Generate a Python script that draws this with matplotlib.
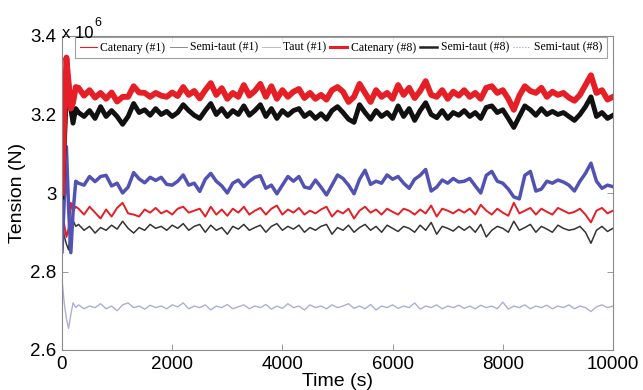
import numpy as np
import matplotlib
matplotlib.use("Agg")
import matplotlib.pyplot as plt
from matplotlib.lines import Line2D
from matplotlib.ticker import FuncFormatter

# ---- data (tension in units of 1e6 N) ----
t_start = [0, 40, 80, 120, 160, 200, 250]
t_main = list(range(300, 10001, 100))
time_s = t_start + t_main

catenary_8 = [3.00, 3.18, 3.345, 3.28, 3.215, 3.23, 3.27,
    3.268, 3.248, 3.262, 3.243, 3.255, 3.240, 3.256, 3.233, 3.245, 3.245,
    3.272, 3.256, 3.255, 3.245, 3.255, 3.248, 3.245, 3.256, 3.247, 3.270,
    3.250, 3.260, 3.241, 3.262, 3.280, 3.250, 3.267, 3.240, 3.255, 3.245,
    3.275, 3.248, 3.260, 3.278, 3.245, 3.272, 3.240, 3.262, 3.245, 3.258,
    3.265, 3.242, 3.255, 3.240, 3.250, 3.238, 3.262, 3.270, 3.258, 3.232,
    3.245, 3.278, 3.255, 3.232, 3.262, 3.245, 3.255, 3.240, 3.275, 3.250,
    3.268, 3.242, 3.260, 3.285, 3.250, 3.245, 3.262, 3.240, 3.258, 3.248,
    3.262, 3.245, 3.255, 3.240, 3.268, 3.272, 3.255, 3.262, 3.240, 3.212,
    3.248, 3.272, 3.260, 3.255, 3.268, 3.245, 3.258, 3.250, 3.255, 3.243,
    3.235, 3.250, 3.275, 3.300, 3.255, 3.262, 3.238, 3.245]

semitaut_8 = [2.99, 3.12, 3.25, 3.282, 3.215, 3.178, 3.215,
    3.205, 3.195, 3.210, 3.190, 3.220, 3.195, 3.210, 3.195, 3.175, 3.195,
    3.228, 3.205, 3.212, 3.198, 3.215, 3.200, 3.208, 3.195, 3.205, 3.225,
    3.210, 3.198, 3.190, 3.210, 3.228, 3.200, 3.215, 3.195, 3.210, 3.200,
    3.222, 3.198, 3.210, 3.225, 3.195, 3.215, 3.190, 3.210, 3.198, 3.210,
    3.215, 3.195, 3.205, 3.190, 3.202, 3.188, 3.210, 3.220, 3.205, 3.188,
    3.180, 3.225, 3.205, 3.188, 3.210, 3.195, 3.205, 3.190, 3.222, 3.195,
    3.215, 3.185, 3.210, 3.230, 3.200, 3.192, 3.210, 3.190, 3.205, 3.198,
    3.210, 3.195, 3.205, 3.190, 3.218, 3.222, 3.205, 3.212, 3.190, 3.167,
    3.195, 3.222, 3.212, 3.198, 3.215, 3.200, 3.208, 3.200, 3.205, 3.195,
    3.185, 3.200, 3.220, 3.245, 3.195, 3.205, 3.190, 3.198]

taut_8 = [2.85, 2.98, 3.118, 2.96, 2.848, 2.95, 3.03,
    3.025, 3.020, 3.042, 3.029, 3.042, 3.045, 3.018, 3.025, 3.000, 3.015,
    3.052, 3.036, 3.026, 3.040, 3.032, 3.040, 3.022, 3.020, 3.030, 3.046,
    3.020, 3.025, 3.004, 3.035, 3.050, 3.030, 3.018, 3.000, 3.025, 3.033,
    3.016, 3.030, 3.040, 3.044, 3.012, 3.020, 2.998, 3.020, 3.042, 3.030,
    3.042, 3.015, 3.012, 3.033, 3.015, 2.995, 3.020, 3.046, 3.037, 3.020,
    2.998, 3.035, 3.058, 3.022, 3.030, 3.025, 3.046, 3.035, 3.042, 3.025,
    3.012, 3.035, 3.045, 3.060, 3.005, 3.015, 3.033, 3.025, 3.037, 3.028,
    3.030, 3.037, 3.018, 3.000, 3.045, 3.055, 3.030, 3.025, 3.010, 2.990,
    2.985, 3.045, 3.055, 3.005, 3.010, 3.030, 3.025, 3.033, 3.028, 3.020,
    3.005, 3.030, 3.050, 3.076, 3.030, 3.012, 3.020, 3.016]

catenary_1 = [2.95, 2.92, 2.888, 2.91, 2.975, 2.955, 2.965,
    2.960, 2.945, 2.965, 2.950, 2.935, 2.958, 2.940, 2.962, 2.975, 2.948,
    2.945, 2.940, 2.958, 2.950, 2.962, 2.948, 2.955, 2.945, 2.960, 2.965,
    2.950, 2.955, 2.960, 2.940, 2.965, 2.945, 2.958, 2.942, 2.960, 2.950,
    2.965, 2.945, 2.955, 2.962, 2.945, 2.960, 2.968, 2.945, 2.958, 2.950,
    2.962, 2.945, 2.955, 2.948, 2.958, 2.965, 2.940, 2.955, 2.948, 2.960,
    2.935, 2.955, 2.965, 2.950, 2.958, 2.945, 2.960, 2.952, 2.945, 2.960,
    2.955, 2.945, 2.958, 2.948, 2.968, 2.940, 2.960, 2.955, 2.948, 2.958,
    2.950, 2.960, 2.945, 2.970, 2.955, 2.945, 2.960, 2.950, 2.942, 2.975,
    2.948, 2.955, 2.962, 2.945, 2.960, 2.952, 2.945, 2.962, 2.955, 2.948,
    2.952, 2.960, 2.945, 2.925, 2.955, 2.962, 2.948, 2.955]

semitaut_1 = [2.93, 2.89, 2.87, 2.855, 2.92, 2.93, 2.915,
    2.920, 2.905, 2.915, 2.898, 2.912, 2.905, 2.918, 2.908, 2.928, 2.910,
    2.898, 2.912, 2.905, 2.920, 2.910, 2.915, 2.905, 2.918, 2.910, 2.922,
    2.905, 2.915, 2.920, 2.900, 2.918, 2.905, 2.912, 2.895, 2.915, 2.908,
    2.920, 2.905, 2.912, 2.918, 2.900, 2.915, 2.922, 2.905, 2.915, 2.908,
    2.918, 2.900, 2.912, 2.905, 2.915, 2.920, 2.895, 2.912, 2.905, 2.918,
    2.900, 2.912, 2.920, 2.905, 2.915, 2.900, 2.918, 2.910, 2.902, 2.915,
    2.910, 2.900, 2.918, 2.905, 2.925, 2.895, 2.915, 2.910, 2.903, 2.915,
    2.905, 2.915, 2.900, 2.920, 2.888, 2.905, 2.915, 2.910, 2.900, 2.928,
    2.905, 2.912, 2.920, 2.900, 2.915, 2.908, 2.900, 2.918, 2.910, 2.905,
    2.908, 2.915, 2.900, 2.872, 2.905, 2.915, 2.902, 2.910]

taut_1 = [2.78, 2.72, 2.68, 2.655, 2.69, 2.72, 2.708,
    2.715, 2.705, 2.712, 2.708, 2.718, 2.705, 2.712, 2.700, 2.715, 2.720,
    2.708, 2.712, 2.704, 2.714, 2.708, 2.712, 2.705, 2.715, 2.710, 2.720,
    2.705, 2.712, 2.708, 2.715, 2.702, 2.712, 2.708, 2.716, 2.705, 2.710,
    2.715, 2.705, 2.712, 2.708, 2.716, 2.704, 2.712, 2.706, 2.718, 2.708,
    2.712, 2.702, 2.715, 2.708, 2.712, 2.705, 2.715, 2.708, 2.712, 2.718,
    2.706, 2.712, 2.705, 2.716, 2.702, 2.712, 2.708, 2.715, 2.706, 2.712,
    2.708, 2.720, 2.704, 2.712, 2.708, 2.715, 2.705, 2.712, 2.708, 2.714,
    2.706, 2.712, 2.705, 2.714, 2.708, 2.712, 2.705, 2.722, 2.704, 2.712,
    2.708, 2.715, 2.705, 2.712, 2.708, 2.714, 2.705, 2.712, 2.708, 2.715,
    2.705, 2.712, 2.708, 2.698, 2.710, 2.715, 2.708, 2.712]

legend_labels = ["Catenary (#1)", "Semi-taut (#1)", "Taut (#1)",
                 "Catenary (#8)", "Semi-taut (#8)", "Semi-taut (#8)"]
x_ticks = [0, 2000, 4000, 6000, 8000, 10000]
y_ticks = [2.6, 2.8, 3.0, 3.2, 3.4]

# ---- figure ----
sans = ["Liberation Sans", "DejaVu Sans"]
serif = ["Liberation Serif", "DejaVu Serif"]

fig = plt.figure(figsize=(6.43, 3.9), dpi=100)
ax = fig.add_axes([62/643, 40/390, 551/643, 314/390])

c_red = "#e61e25"
c_black = "#111111"
c_blue = "#5252b4"
c_lav = "#adadda"

ax.plot(time_s, taut_1, color=c_lav, lw=1.0)
ax.plot(time_s, semitaut_1, color="#333333", lw=1.1)
ax.plot(time_s, catenary_1, color=c_red, lw=1.4)
ax.plot(time_s, taut_8, color=c_blue, lw=2.5)
ax.plot(time_s, semitaut_8, color=c_black, lw=3.5)
ax.plot(time_s, catenary_8, color=c_red, lw=4.2)

ax.set_xlim(0, 10000)
ax.set_ylim(2.6, 3.4)
ax.set_xticks(x_ticks)
ax.set_yticks(y_ticks)
ax.yaxis.set_major_formatter(FuncFormatter(lambda v, p: "%g" % round(v, 2)))
ax.tick_params(direction="in", length=4, width=0.6, top=True, right=True,
               labelsize=13.5, colors="#888888", labelcolor="black", pad=4)
for lbl in ax.get_xticklabels() + ax.get_yticklabels():
    lbl.set_family(sans)
for s in ax.spines.values():
    s.set_color("#8a8a8a")
    s.set_linewidth(0.8)

ax.set_xlabel("Time (s)", fontsize=14, family=sans, labelpad=0)
ax.set_ylabel("Tension (N)", fontsize=14, family=sans, labelpad=3)

fig.text(62/643, 1 - 38/390, "x 10", fontsize=12, family=sans,
         ha="left", va="baseline")
fig.text(94/643, 1 - 26/390, "6", fontsize=9, family=sans,
         ha="left", va="baseline")

handles = [
    Line2D([], [], color=c_red, lw=0.8),
    Line2D([], [], color="#777777", lw=0.6),
    Line2D([], [], color=c_lav, lw=0.6),
    Line2D([], [], color=c_red, lw=2.2),
    Line2D([], [], color="#222222", lw=1.8),
    Line2D([], [], color="#9a9ac0", lw=0.8, ls=":"),
]
leg = ax.legend(handles, legend_labels, loc="upper left",
                bbox_to_anchor=(13/551, 313/314), ncol=6,
                prop={"family": serif, "size": 8.5},
                handlelength=1.45, handletextpad=0.3, columnspacing=0.35,
                borderpad=0.4, borderaxespad=0, frameon=True, fancybox=False)
leg.get_frame().set_edgecolor("#888888")
leg.get_frame().set_linewidth(0.8)

fig.savefig("out.png", dpi=100)
